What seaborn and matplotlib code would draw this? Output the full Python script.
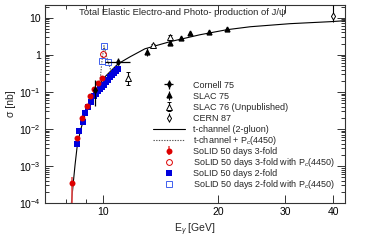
import matplotlib
matplotlib.use("Agg")
import matplotlib.pyplot as plt
import seaborn as sns
from matplotlib.ticker import FixedLocator, NullFormatter

# t-channel (2-gluon) curve
curve_e = [8.25, 8.35, 8.45, 8.55, 8.71, 8.97, 9.25, 9.53, 9.82, 10.12, 10.43, 10.95,
           11.77, 12.88, 14.97, 17.95, 21.1, 24.3, 30.9, 39.3, 43.0]
curve_s = [8e-5, 3.1e-4, 1.07e-3, 3.1e-3, 8.3e-3, 0.024, 0.054, 0.10, 0.164, 0.254, 0.347, 0.57,
           0.88, 1.45, 2.25, 3.47, 4.74, 5.7, 6.9, 7.8, 8.3]

# t-channel + Pc(4450)
pc_e = [9.70, 9.82, 9.94, 10.06, 10.18, 10.30, 10.56]
pc_s = [0.145, 0.187, 0.69, 1.75, 1.06, 0.65, 0.306]

# world data
cornell_e = [9.53, 10.95]
cornell_s = [0.113, 0.65]
cornell_lo = [0.071, 0.10]
cornell_hi = [0.098, 0.15]
cornell_xlo = [0.0, 0.85]
cornell_xhi = [0.0, 0.82]

slac75_e = [13.0, 14.97, 16.0, 16.9, 18.9, 21.1]
slac75_s = [1.2, 2.1, 2.9, 3.9, 4.2, 5.1]
slac75_err = [0.3, 0.2, 0.2, 0.3, 0.3, 0.4]

slac76_e = [11.6, 13.5, 15.0]
slac76_s = [0.24, 1.86, 3.06]
slac76_lo = [0.086, 0.15, 0.3]
slac76_hi = [0.11, 0.15, 0.3]

cern87_e = [40.0]
cern87_s = [11.3]
cern87_lo = [3.5]
cern87_hi = [11.0]

# SoLID projections
red_e = [8.31, 8.55, 8.81, 9.08, 9.25, 9.47, 9.70, 9.94]
red_s = [3.4e-4, 5.7e-3, 0.0198, 0.0417, 0.078, 0.12, 0.175, 0.24]
red_lo = [3.3e-4, 0, 0, 0, 0, 0, 0, 0]
red_hi = [1.6e-4, 0, 0, 0, 0, 0, 0, 0]

redpc_e = [10.0]
redpc_s = [1.06]

blue_e = [8.55, 8.65, 8.86, 8.97, 9.14, 9.30, 9.47, 9.59, 9.70, 9.82, 9.94, 10.06,
          10.18, 10.30, 10.43, 10.56, 10.69, 10.82, 10.95]
blue_s = [3.9e-3, 8.8e-3, 0.0154, 0.027, 0.039, 0.054, 0.078, 0.088, 0.103, 0.12, 0.137, 0.154,
          0.18, 0.211, 0.246, 0.288, 0.326, 0.37, 0.42]

bluepc_e = [9.94, 10.06, 10.30]
bluepc_s = [0.69, 1.75, 0.65]

legend_order = ['Cornell 75', 'SLAC 75', 'SLAC 76 (Unpublished)', 'CERN 87',
                't-channel (2-gluon)', 't-channel + P$_c$(4450)',
                'SoLID 50 days 3-fold', 'SoLID 50 days 3-fold with P$_c$(4450)',
                'SoLID 50 days 2-fold', 'SoLID 50 days 2-fold with P$_c$(4450)']

sns.set_style("ticks")
plt.rcParams['font.family'] = ['Liberation Sans', 'DejaVu Sans']
plt.rcParams['mathtext.fontset'] = 'custom'
plt.rcParams['mathtext.rm'] = 'Liberation Sans'
plt.rcParams['mathtext.it'] = 'Liberation Sans:italic'

RED = '#dd0000'
BLUE = '#0000dd'
BLUE2 = '#4060ee'

fig = plt.figure(figsize=(3.68, 2.41), dpi=100)
ax = fig.add_axes([45 / 368, 38 / 241, 300 / 368, 198 / 241])

ax.errorbar(cornell_e, cornell_s, yerr=[cornell_lo, cornell_hi], xerr=[cornell_xlo, cornell_xhi],
            fmt='d', color='black', ms=3, elinewidth=0.9, capsize=0, label='Cornell 75', zorder=5)
ax.errorbar(slac75_e, slac75_s, yerr=slac75_err, fmt='^', color='black', ms=3.5,
            elinewidth=0.8, capsize=0, label='SLAC 75', zorder=5)
ax.errorbar(slac76_e, slac76_s, yerr=[slac76_lo, slac76_hi], fmt='^', color='black', mfc='white',
            ms=3.8, mew=0.7, elinewidth=0.8, capsize=1.2, label='SLAC 76 (Unpublished)', zorder=5)
ax.errorbar(cern87_e, cern87_s, yerr=[cern87_lo, cern87_hi], fmt='d', color='black', mfc='white',
            ms=3.5, mew=0.7, elinewidth=0.8, capsize=0, label='CERN 87', zorder=5)

sns.lineplot(x=curve_e, y=curve_s, ax=ax, color='black', lw=0.8, sort=False,
             label='t-channel (2-gluon)', zorder=3)
sns.lineplot(x=pc_e, y=pc_s, ax=ax, color='#555555', lw=0.8, ls=(0, (1.2, 1.2)), sort=False,
             label='t-channel + P$_c$(4450)', zorder=3)

ax.plot(blue_e, blue_s, 's', color=BLUE, ms=3.8, mew=0, label='SoLID 50 days 2-fold', zorder=4)
ax.plot(bluepc_e, bluepc_s, 's', mfc='none', mec=BLUE2, ms=3.8, mew=0.7,
        label='SoLID 50 days 2-fold with P$_c$(4450)', zorder=4)
ax.errorbar(red_e, red_s, yerr=[red_lo, red_hi], fmt='o', color=RED, ecolor='#e85050', ms=4.3,
            mew=0, elinewidth=1.2, capsize=0, label='SoLID 50 days 3-fold', zorder=4.5)
ax.plot(redpc_e, redpc_s, 'o', mfc='none', mec=RED, ms=4.2, mew=0.7,
        label='SoLID 50 days 3-fold with P$_c$(4450)', zorder=4.5)

ax.set_xscale('log')
ax.set_yscale('log')
ax.set_xlim(7.05, 43)
ax.set_ylim(1e-4, 22)

ax.xaxis.set_major_locator(FixedLocator([10, 20, 30, 40]))
ax.xaxis.set_minor_locator(FixedLocator([8, 9]))
ax.set_xticklabels(['10', '20', '30', '40'])
ax.xaxis.set_minor_formatter(NullFormatter())
yt = [1e-4, 1e-3, 1e-2, 1e-1, 1, 10]
ax.yaxis.set_major_locator(FixedLocator(yt))
ax.set_yticklabels(['$10^{-4}$', '$10^{-3}$', '$10^{-2}$', '$10^{-1}$', '1', '10'])
ax.yaxis.set_minor_locator(FixedLocator([m * 10.0 ** d for d in range(-4, 2) for m in range(2, 10)]))
ax.yaxis.set_minor_formatter(NullFormatter())

ax.tick_params(which='both', direction='in', top=True, right=True, labelsize=7.5, colors='#333333',
               labelcolor='black', width=0.7)
ax.tick_params(which='major', length=6, pad=3)
ax.tick_params(which='minor', length=3)
for s in ax.spines.values():
    s.set_linewidth(0.8)
    s.set_color('#333333')

ax.set_xlabel('E$_\\gamma$ [GeV]', fontsize=7.5, labelpad=3)
ax.set_ylabel('σ [nb]', fontsize=7.5, labelpad=2)
ax.text(0.458, 0.96, 'Total Elastic Electro-and Photo- production of J/ψ', transform=ax.transAxes,
        ha='center', va='center', fontsize=6.8)

# one legend per row so the row pitch stays even
handles, labels = ax.get_legend_handles_labels()
lookup = dict(zip(labels, handles))
legs = []
for i, lab in enumerate(legend_order):
    ypix = 85 + 11.1 * i
    leg = ax.legend([lookup[lab]], [lab], loc='center left',
                    bbox_to_anchor=(0.36, 1 - (ypix - 5) / 198), frameon=False, fontsize=6.5,
                    borderpad=0, borderaxespad=0, handlelength=3.5, handletextpad=0.9)
    legs.append(leg)
for leg in legs[:-1]:
    ax.add_artist(leg)

fig.savefig('out.png', dpi=100)
